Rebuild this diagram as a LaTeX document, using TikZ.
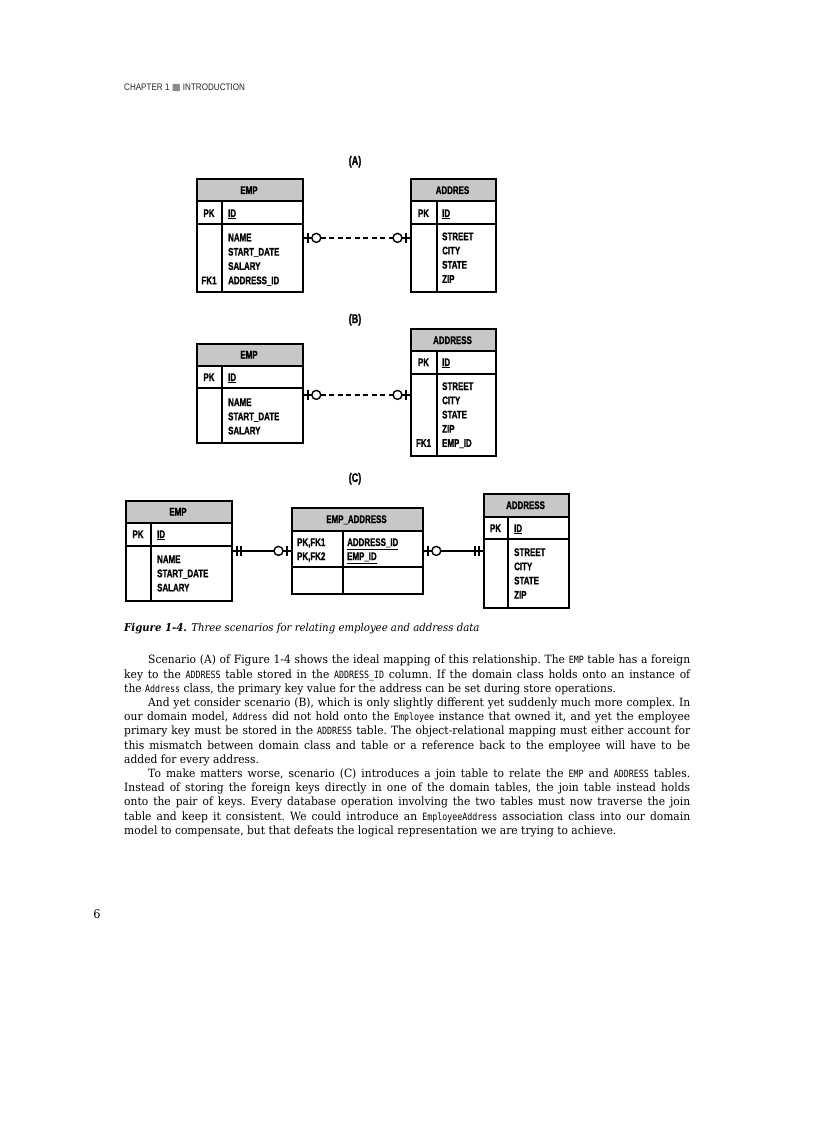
\documentclass[tikz,border=0pt]{standalone}
\usepackage{fontspec}
\setmainfont[FakeStretch=0.94]{DejaVu Serif}
\newfontfamily\dgfont[FakeStretch=0.72, FakeBold=1]{Liberation Sans}
\newfontfamily\hdfont[FakeStretch=0.85]{Liberation Sans}
\newfontfamily\codefont[FakeStretch=0.83]{DejaVu Sans Mono}
\newfontfamily\symfont{DejaVu Sans}
\newcommand\code[1]{{\codefont\fontsize{10}{12}\selectfont #1}}
\tikzset{
  hdr/.style={fill=black!22},
  tbl/.style={draw, line width=1.8pt, inner sep=0pt, anchor=north west},
  rowline/.style={line width=1.4pt},
  fld/.style={anchor=base west, inner sep=0pt, font=\dgfont\bfseries\fontsize{11}{13}\selectfont},
  rel/.style={line width=1.4pt},
  onezero/.pic={
    \draw[rel] (0,0) -- (8,0);
    \draw[rel] (4,-5) -- (4,5);
    \draw[rel, fill=white] (12.5,0) circle (4.5);
  },
  oneone/.pic={
    \draw[rel] (0,0) -- (10,0);
    \draw[rel] (4,-5) -- (4,5);
    \draw[rel] (8,-5) -- (8,5);
  }
}
\begin{document}
\begin{tikzpicture}[x=1pt, y=-1pt]
    \useasboundingbox (0,0) rectangle (816,1123);
    \fill[white] (0,0) rectangle (816,1123);
    % 页眉
    \node[anchor=base west, inner sep=0pt, text=black!85, font=\hdfont\fontsize{9.5}{11}\selectfont] (chap) at (124,90.5) {CHAPTER 1 {\symfont\color{black!45}■} INTRODUCTION};

    % 场景 (A)
    \node[fld, anchor=base, font=\dgfont\bfseries\fontsize{12.5}{14}\selectfont] (labA) at (355,165) {(A)};
    % 表 EMP
    \fill[hdr] (196,178) rectangle (302,201);
    \draw[rowline] (196,201) -- (302,201);
    \draw[rowline] (196,224) -- (302,224);
    \draw[rowline] (222,201) -- (222,291);
    \node[tbl, minimum width=106pt, minimum height=113pt] (empA) at (196,178) {};
    \node[fld, anchor=base] (empAh) at (249,194) {EMP};
    \node[fld, anchor=base] (empApk) at (209,217) {PK};
    \node[fld] (empAid) at (228,217) {\underline{ID}};
    \foreach \f [count=\i] in {NAME, START\_DATE, SALARY, ADDRESS\_ID}
        \node[fld] (empAf\i) at (228,227+14.3*\i) {\f};
    \node[fld, anchor=base] (empAfk) at (209,284.2) {FK1};
    % 表 ADDRES
    \fill[hdr] (410,178) rectangle (495,201);
    \draw[rowline] (410,201) -- (495,201);
    \draw[rowline] (410,224) -- (495,224);
    \draw[rowline] (437,201) -- (437,291);
    \node[tbl, minimum width=85pt, minimum height=113pt] (addrA) at (410,178) {};
    \node[fld, anchor=base] (addrAh) at (452.5,194) {ADDRES};
    \node[fld, anchor=base] (addrApk) at (423.5,217) {PK};
    \node[fld] (addrAid) at (442,217) {\underline{ID}};
    \foreach \f [count=\i] in {STREET, CITY, STATE, ZIP}
        \node[fld] (addrAf\i) at (442,226+14.2*\i) {\f};
    % 连线
    \draw[rel, dash pattern=on 5pt off 3.5pt] ([yshift=-2.5pt]empA.east) -- ([yshift=-2.5pt]addrA.west);
    \pic at ([yshift=-2.5pt]empA.east) {onezero};
    \pic[xscale=-1] at ([yshift=-2.5pt]addrA.west) {onezero};

    % 场景 (B)
    \node[fld, anchor=base, font=\dgfont\bfseries\fontsize{12.5}{14}\selectfont] (labB) at (355,323) {(B)};
    % 表 EMP
    \fill[hdr] (196,343) rectangle (302,366);
    \draw[rowline] (196,366) -- (302,366);
    \draw[rowline] (196,388) -- (302,388);
    \draw[rowline] (222,366) -- (222,442);
    \node[tbl, minimum width=106pt, minimum height=99pt] (empB) at (196,343) {};
    \node[fld, anchor=base] (empBh) at (249,358.5) {EMP};
    \node[fld, anchor=base] (empBpk) at (209,381) {PK};
    \node[fld] (empBid) at (228,381) {\underline{ID}};
    \foreach \f [count=\i] in {NAME, START\_DATE, SALARY}
        \node[fld] (empBf\i) at (228,391.8+14.2*\i) {\f};
    % 表 ADDRESS
    \fill[hdr] (410,328) rectangle (495,351);
    \draw[rowline] (410,351) -- (495,351);
    \draw[rowline] (410,374) -- (495,374);
    \draw[rowline] (437,351) -- (437,455);
    \node[tbl, minimum width=85pt, minimum height=127pt] (addrB) at (410,328) {};
    \node[fld, anchor=base] (addrBh) at (452.5,344) {ADDRESS};
    \node[fld, anchor=base] (addrBpk) at (423.5,366) {PK};
    \node[fld] (addrBid) at (442,366) {\underline{ID}};
    \foreach \f [count=\i] in {STREET, CITY, STATE, ZIP, EMP\_ID}
        \node[fld] (addrBf\i) at (442,375.8+14.2*\i) {\f};
    \node[fld, anchor=base] (addrBfk) at (423.5,446.8) {FK1};
    % 连线
    \draw[rel, dash pattern=on 5pt off 3.5pt] ([yshift=-1.5pt]empB.east) -- ([yshift=-1.5pt]empB.east -| addrB.west);
    \pic at ([yshift=-1.5pt]empB.east) {onezero};
    \pic[xscale=-1] at ([yshift=-1.5pt]empB.east -| addrB.west) {onezero};

    % 场景 (C)
    \node[fld, anchor=base, font=\dgfont\bfseries\fontsize{12.5}{14}\selectfont] (labC) at (355,482) {(C)};
    % 表 EMP
    \fill[hdr] (125,500) rectangle (231,523);
    \draw[rowline] (125,523) -- (231,523);
    \draw[rowline] (125,546) -- (231,546);
    \draw[rowline] (151,523) -- (151,600);
    \node[tbl, minimum width=106pt, minimum height=100pt] (empC) at (125,500) {};
    \node[fld, anchor=base] (empCh) at (178,515.5) {EMP};
    \node[fld, anchor=base] (empCpk) at (138,538) {PK};
    \node[fld] (empCid) at (157,538) {\underline{ID}};
    \foreach \f [count=\i] in {NAME, START\_DATE, SALARY}
        \node[fld] (empCf\i) at (157,548.8+14.2*\i) {\f};
    % 表 EMP_ADDRESS
    \fill[hdr] (291,507) rectangle (422,531);
    \draw[rowline] (291,531) -- (422,531);
    \draw[rowline] (291,567) -- (422,567);
    \draw[rowline] (343,531) -- (343,593);
    \node[tbl, minimum width=131pt, minimum height=86pt] (jnC) at (291,507) {};
    \node[fld, anchor=base] (jnCh) at (356.5,523) {EMP\_ADDRESS};
    \node[fld] (jnCk1) at (297,546) {PK,FK1};
    \node[fld] (jnCk2) at (297,560) {PK,FK2};
    \node[fld] (jnCf1) at (347,546) {\underline{ADDRESS\_ID}};
    \node[fld] (jnCf2) at (347,560) {\underline{EMP\_ID}};
    % 表 ADDRESS
    \fill[hdr] (483,493) rectangle (568,517);
    \draw[rowline] (483,517) -- (568,517);
    \draw[rowline] (483,539) -- (568,539);
    \draw[rowline] (508,517) -- (508,607);
    \node[tbl, minimum width=85pt, minimum height=114pt] (addrC) at (483,493) {};
    \node[fld, anchor=base] (addrCh) at (525.5,509) {ADDRESS};
    \node[fld, anchor=base] (addrCpk) at (495.5,532) {PK};
    \node[fld] (addrCid) at (514,532) {\underline{ID}};
    \foreach \f [count=\i] in {STREET, CITY, STATE, ZIP}
        \node[fld] (addrCf\i) at (514,541.8+14.2*\i) {\f};
    % 连线
    \draw[rel] (empC.east) -- (jnC.west);
    \draw[rel] (jnC.east) -- (addrC.west);
    \pic at (empC.east) {oneone};
    \pic[xscale=-1] at (jnC.west) {onezero};
    \pic at (jnC.east) {onezero};
    \pic[xscale=-1] at (addrC.west) {oneone};

    % 图题
    \node[anchor=base west, inner sep=0pt, font=\fontsize{10.8}{13}\selectfont] (cap) at (124,631)
        {{\bfseries\itshape Figure 1-4.} {\itshape Three scenarios for relating employee and address data}};

    % 正文
    \node[anchor=north west, inner sep=0pt, text width=566pt, align=justify,
          font=\fontsize{11.4}{14.2}\selectfont\frenchspacing] (body) at (124,655) {%
\hspace*{24pt}Scenario (A) of Figure 1-4 shows the ideal mapping of this relationship. The \code{EMP} table has a foreign\linebreak
key to the \code{ADDRESS} table stored in the \code{ADDRESS\_ID} column. If the domain class holds onto an instance of\linebreak
the \code{Address} class, the primary key value for the address can be set during store operations.\par
\hspace*{24pt}And yet consider scenario (B), which is only slightly different yet suddenly much more complex. In\linebreak
our domain model, \code{Address} did not hold onto the \code{Employee} instance that owned it, and yet the employee\linebreak
primary key must be stored in the \code{ADDRESS} table. The object-relational mapping must either account for\linebreak
this mismatch between domain class and table or a reference back to the employee will have to be\linebreak
added for every address.\par
\hspace*{24pt}To make matters worse, scenario (C) introduces a join table to relate the \code{EMP} and \code{ADDRESS} tables.\linebreak
Instead of storing the foreign keys directly in one of the domain tables, the join table instead holds\linebreak
onto the pair of keys. Every database operation involving the two tables must now traverse the join\linebreak
table and keep it consistent. We could introduce an \code{EmployeeAddress} association class into our domain\linebreak
model to compensate, but that defeats the logical representation we are trying to achieve.};

    % 页码
    \node[anchor=base, inner sep=0pt, font=\fontsize{12}{15}\selectfont] (pgno) at (97,918) {6};
\end{tikzpicture}
\end{document}
